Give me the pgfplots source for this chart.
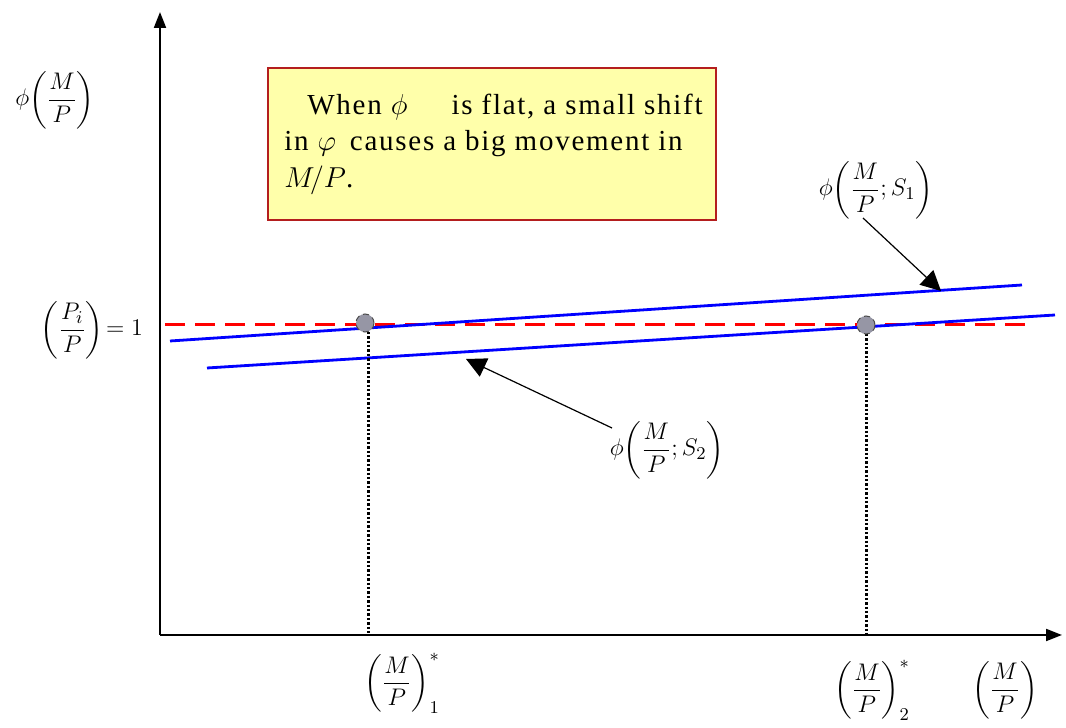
\documentclass[border=0pt]{standalone}
\usepackage{amsmath}
\usepackage{pgfplots}
\pgfplotsset{compat=1.18}
\usepackage{fontspec}
\setmainfont{Liberation Serif}
\newfontfamily\boxfont[LetterSpace=6]{Liberation Serif}
\usetikzlibrary{arrows.meta}
\definecolor{boxfill}{RGB}{255,255,170}
\definecolor{boxedge}{RGB}{180,30,30}
\definecolor{dotfill}{RGB}{150,150,165}
\begin{document}
\begin{tikzpicture}
\begin{axis}[
  scale only axis, width=533pt, height=364pt,
  xmin=0, xmax=1066, ymin=0, ymax=728,
  hide axis, clip=false,
]
% axes
\addplot[black, line width=1pt, -{Triangle[length=8pt,width=6pt]}] coordinates {(160,93) (160,716)};
\addplot[black, line width=1pt, -{Triangle[length=8pt,width=6pt]}] coordinates {(160,93) (1062,93)};
% red dashed
\addplot[red, line width=1.5pt, dash pattern=on 10pt off 5pt] coordinates {(165,403) (1030,403)};
% blue lines
\addplot[blue, line width=1.4pt] coordinates {(170,387) (1022,443)};
\addplot[blue, line width=1.4pt] coordinates {(207,360) (1055,413)};
% dotted verticals
\addplot[black, line width=1.5pt, dash pattern=on 1.2pt off 1pt] coordinates {(368,405) (368,93)};
\addplot[black, line width=1.5pt, dash pattern=on 1.2pt off 1pt] coordinates {(866,403) (866,93)};
% dots
\addplot[only marks, mark=*, mark size=4.5pt, mark options={fill=dotfill, draw=black!70, densely dashed, line width=0.5pt}] coordinates {(365,405) (866,403)};
% annotation arrows
\draw[black, line width=0.6pt, -{Triangle[length=10pt,width=10pt]}] (axis cs:863,510) -- (axis cs:941,437);
\draw[black, line width=0.6pt, -{Triangle[length=10pt,width=10pt]}] (axis cs:612,300) -- (axis cs:466,369);
% text box
\draw[boxedge, line width=1pt, fill=boxfill] (axis cs:268,660) rectangle (axis cs:716,508);
\node[anchor=base west, font=\boxfont\fontsize{14.5}{17}\selectfont, inner sep=0pt] at (axis cs:307,613) {When $\phi$\hspace{22pt}is flat, a small shift};
\node[anchor=base west, font=\boxfont\fontsize{14.5}{17}\selectfont, inner sep=0pt] at (axis cs:284,577) {in $\varphi$ \,causes a big movement in};
\node[anchor=base west, font=\boxfont\fontsize{14.5}{17}\selectfont, inner sep=0pt] at (axis cs:284,540) {$M\!/P$.};
% labels
\node[font=\fontsize{12.8}{15}\selectfont] at (axis cs:55,628) {$\phi\!\left(\dfrac{M}{P}\right)$};
\node[font=\fontsize{12.8}{15}\selectfont, anchor=east] at (axis cs:150,398) {$\left(\dfrac{P_i}{P}\right)\!=1$};
\node[font=\fontsize{12.8}{15}\selectfont] at (axis cs:402,45) {$\left(\dfrac{M}{P}\right)^{*}_{1}$};
\node[font=\fontsize{12.8}{15}\selectfont] at (axis cs:872,38) {$\left(\dfrac{M}{P}\right)^{*}_{2}$};
\node[font=\fontsize{12.8}{15}\selectfont] at (axis cs:1005,38) {$\left(\dfrac{M}{P}\right)$};
\node[font=\fontsize{12.8}{15}\selectfont] at (axis cs:876,538) {$\phi\!\left(\dfrac{M}{P};S_1\right)$};
\node[font=\fontsize{12.8}{15}\selectfont] at (axis cs:667,278) {$\phi\!\left(\dfrac{M}{P};S_2\right)$};
\end{axis}
\pgfresetboundingbox
\path (0,0) rectangle (533pt,364pt);
\end{tikzpicture}
\end{document}
